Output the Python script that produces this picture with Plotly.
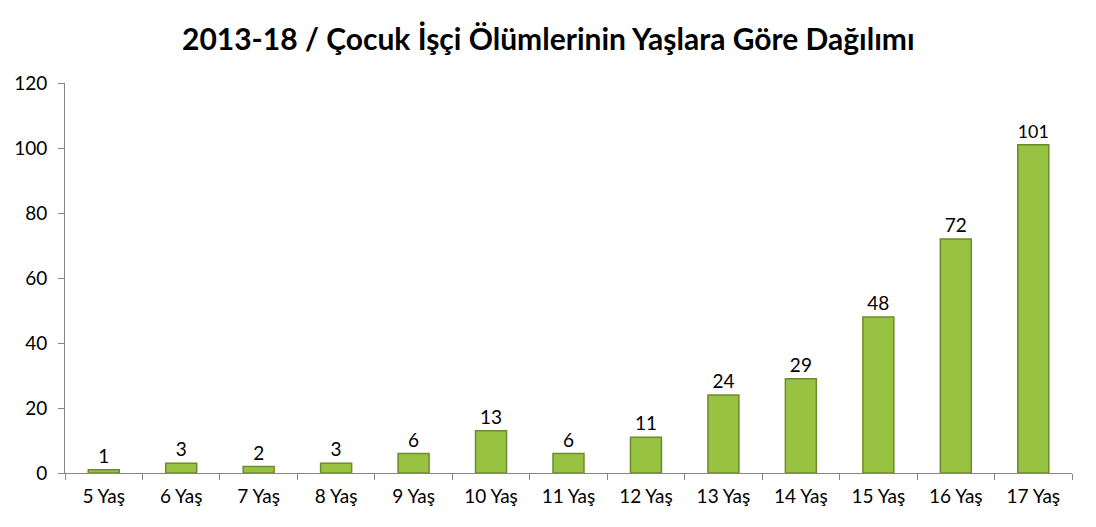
import plotly.graph_objects as go

ages = ["5 Yaş", "6 Yaş", "7 Yaş", "8 Yaş", "9 Yaş", "10 Yaş", "11 Yaş",
        "12 Yaş", "13 Yaş", "14 Yaş", "15 Yaş", "16 Yaş", "17 Yaş"]
deaths = [1, 3, 2, 3, 6, 13, 6, 11, 24, 29, 48, 72, 101]

fig = go.Figure()

fig.add_trace(go.Bar(
    x=ages, y=deaths,
    marker=dict(color="#98c242", line=dict(color="#6b8c2c", width=1.5)),
    width=0.4,
    text=deaths, textposition="outside",
    textfont=dict(size=19, color="black"),
    cliponaxis=False,
))

fig.update_layout(
    title=dict(text="<b>2013-18 / Çocuk İşçi Ölümlerinin Yaşlara Göre Dağılımı</b>",
               x=0.493, xanchor="center", y=0.94, yanchor="middle",
               font=dict(size=30, color="black")),
    font=dict(family="Lato, Open Sans, sans-serif", size=18, color="black"),
    plot_bgcolor="white", paper_bgcolor="white",
    width=1096, height=527,
    margin=dict(l=57, r=32, t=75, b=62),
    showlegend=False,
    bargap=0.6,
)

fig.update_yaxes(range=[0, 120], dtick=20, showgrid=False, zeroline=False,
                 showline=True, linecolor="#868686", linewidth=1,
                 ticks="outside", ticklen=6, tickcolor="#868686",
                 ticklabelstandoff=7, tickfont=dict(size=19), automargin=False)
fig.update_xaxes(showgrid=False, showline=True, linecolor="#868686", linewidth=1,
                 ticks="outside", ticklen=6, tickcolor="#868686",
                 tickson="boundaries", ticklabelstandoff=6, tickfont=dict(size=19),
                 automargin=False)

fig.write_html("out.html")
